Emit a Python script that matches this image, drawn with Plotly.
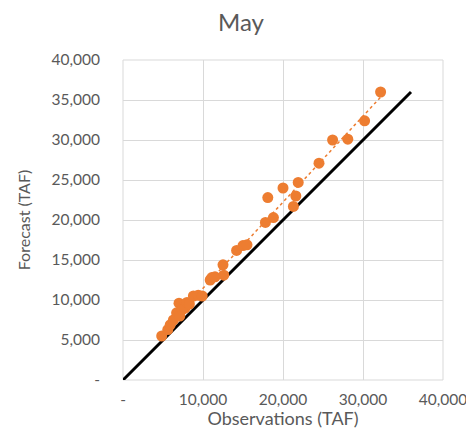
import numpy as np
import plotly.graph_objects as go

obs = [4840, 5600, 5900, 6300, 6700, 7000, 7100, 7400, 7750, 8000, 8300, 8800, 9400, 9900,
       10900, 11100, 11500, 12500, 12600, 14200, 15000, 15500, 17800, 18100, 18800, 20000,
       21300, 21600, 21900, 24500, 26200, 28100, 30200, 32200]
fcst = [5500, 6300, 6900, 7500, 8400, 9600, 8000, 8800, 9000, 9700, 9500, 10500, 10600, 10500,
        12500, 12800, 12900, 14400, 13100, 16200, 16800, 16900, 19700, 22800, 20300, 24000,
        21700, 23000, 24700, 27100, 30000, 30100, 32400, 36000]
one_to_one = [0, 36000]
tick_vals = [0, 10000, 20000, 30000, 40000]
tick_text = ["-", "10,000", "20,000", "30,000", "40,000"]
ytick_vals = [0, 5000, 10000, 15000, 20000, 25000, 30000, 35000, 40000]
ytick_text = ["-", "5,000", "10,000", "15,000", "20,000", "25,000", "30,000", "35,000", "40,000"]

orange = "#ED7D31"
gray = "#595959"

slope, intercept = np.polyfit(obs, fcst, 1)
tx = [min(obs), max(obs)]
ty = [slope * v + intercept for v in tx]

W, H = 466, 437
fig = go.Figure()
fig.add_trace(go.Scatter(x=one_to_one, y=one_to_one, mode="lines",
                         line=dict(color="black", width=3), showlegend=False))
fig.add_trace(go.Scatter(x=tx, y=ty, mode="lines",
                         line=dict(color=orange, width=1.5, dash="dot"), showlegend=False))
fig.add_trace(go.Scatter(x=obs, y=fcst, mode="markers",
                         marker=dict(color=orange, size=11), showlegend=False))

fig.update_layout(
    width=W, height=H,
    margin=dict(l=115, r=31, t=52, b=65, autoexpand=False),
    paper_bgcolor="white", plot_bgcolor="white",
    font=dict(family="Lato, Calibri, sans-serif", color=gray, size=16),
    title=dict(text="May", x=0.5, xanchor="center", y=1 - 15 / H, yanchor="middle",
               font=dict(size=24, color=gray)),
    xaxis=dict(range=[0, 40000], tickvals=tick_vals, ticktext=tick_text,
               showgrid=True, gridcolor="#D9D9D9", gridwidth=1, zeroline=False,
               showline=False, ticks="", ticklabelstandoff=8,
               tickfont=dict(size=15.5),
               title=dict(text="Observations (TAF)", font=dict(size=18, color=gray), standoff=4)),
    yaxis=dict(range=[0, 40000], tickvals=ytick_vals, ticktext=ytick_text,
               showgrid=True, gridcolor="#D9D9D9", gridwidth=1, zeroline=False,
               showline=False, ticks="", ticklabelstandoff=22,
               tickfont=dict(size=15.5),
               title=dict(text="Forecast (TAF)", font=dict(size=16, color=gray), standoff=16)),
)
fig.add_shape(type="rect", xref="paper", yref="paper", x0=0, y0=0, x1=1, y1=1,
              line=dict(color="#D9D9D9", width=1), layer="below")

fig.write_html("out.html")
